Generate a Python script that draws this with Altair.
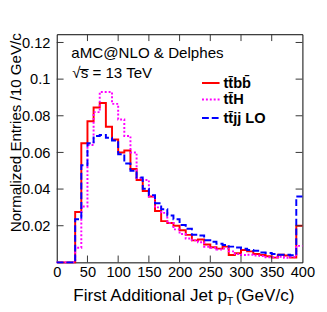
import altair as alt
import pandas as pd

# ---------------- data (bin lower edges, 10 GeV bins) ----------------
bin_edges = list(range(0, 400, 10))

ttbb = [0, 0, 0, 0.0275, 0.065, 0.077, 0.0845, 0.087, 0.074, 0.067,
        0.060, 0.061, 0.051, 0.045, 0.039, 0.036, 0.028, 0.0225, 0.0215, 0.020,
        0.0175, 0.015, 0.012, 0.0125, 0.0098, 0.0082, 0.0075, 0.0086, 0.004, 0.005,
        0.0068, 0.006, 0.0046, 0.004, 0.0033, 0.0026, 0.0042, 0.0038, 0.0026, 0.020]

ttH = [0, 0, 0, 0.008, 0.0305, 0.064, 0.082, 0.093, 0.093, 0.0865,
       0.078, 0.069, 0.060, 0.046, 0.045, 0.036, 0.030, 0.027, 0.0215, 0.018,
       0.0155, 0.013, 0.012, 0.011, 0.0085, 0.008, 0.007, 0.0075, 0.006, 0.0045,
       0.004, 0.0042, 0.0038, 0.0035, 0.0028, 0.0028, 0.003, 0.0025, 0.003, 0.009]

ttjj = [0, 0, 0, 0.0235, 0.053, 0.065, 0.069, 0.0695, 0.068, 0.0665,
        0.059, 0.054, 0.050, 0.0463, 0.0402, 0.0367, 0.0323, 0.029, 0.0256, 0.0235,
        0.0204, 0.0183, 0.0151, 0.0147, 0.0121, 0.0112, 0.0102, 0.0095, 0.0086, 0.0081,
        0.0074, 0.0067, 0.0063, 0.0054, 0.0051, 0.0046, 0.0042, 0.0042, 0.0039, 0.036]

series_names = ["t\u0074\u0304b\u0062\u0304", "t\u0074\u0304H", "t\u0074\u0304jj LO"]
series_colors = ["#ff0000", "#ff00ff", "#0000ff"]
series_dash = [[1, 0], [2, 2], [7, 3]]

x_ticks = [0, 50, 100, 150, 200, 250, 300, 350, 400]
y_ticks = [0.02, 0.04, 0.06, 0.08, 0.10, 0.12]

x_title_main = "First Additional Jet p"
x_title_sub = "T"
x_title_unit = "(GeV/c)"
y_title = "Normalized Entries /10 GeV/c"
note1 = "aMC@NLO & Delphes"
note2 = "\u221as\u0305 = 13 TeV"

W, H = 252, 234
FONT = "Liberation Sans"

xs = alt.Scale(domain=[0, 400], nice=False, zero=False)
ys = alt.Scale(domain=[0, 0.1245], nice=False, zero=False)

x_axis = alt.Axis(values=x_ticks, ticks=False, domain=False, grid=False,
                  labelFontSize=15, labelPadding=2, title=None, labelOverlap=False,
                  labelFlush=False, labelColor="black", labelFont=FONT)
y_axis = alt.Axis(values=y_ticks, ticks=False, domain=False, grid=False,
                  labelFontSize=15, labelPadding=7, title=None, format=".2~f",
                  labelOverlap=False, labelFlush=False, labelColor="black", labelFont=FONT)


def hist_df(vals):
    xs_ = bin_edges + [400]
    ys_ = vals + [vals[-1]]
    return pd.DataFrame({"x": xs_, "y": ys_})


layers = []
for i, vals in enumerate([ttbb, ttH, ttjj]):
    layers.append(
        alt.Chart(hist_df(vals)).mark_line(
            interpolate="step-after", strokeWidth=2, color=series_colors[i],
            strokeDash=series_dash[i], clip=False
        ).encode(x=alt.X("x:Q", scale=xs, axis=x_axis),
                 y=alt.Y("y:Q", scale=ys, axis=y_axis))
    )

xt = pd.DataFrame({"x": x_ticks[1:-1]})
yt = pd.DataFrame({"y": y_ticks})
tick_col = "#333333"
layers += [
    alt.Chart(xt).mark_rule(color=tick_col, strokeWidth=1).encode(
        x=alt.X("x:Q", scale=xs, axis=x_axis), y=alt.value(H), y2=alt.value(H - 7)),
    alt.Chart(xt).mark_rule(color=tick_col, strokeWidth=1).encode(
        x=alt.X("x:Q", scale=xs, axis=x_axis), y=alt.value(0), y2=alt.value(7)),
    alt.Chart(yt).mark_rule(color=tick_col, strokeWidth=1).encode(
        y=alt.Y("y:Q", scale=ys, axis=y_axis), x=alt.value(0), x2=alt.value(7)),
    alt.Chart(yt).mark_rule(color=tick_col, strokeWidth=1).encode(
        y=alt.Y("y:Q", scale=ys, axis=y_axis), x=alt.value(W), x2=alt.value(W - 7)),
]

one = pd.DataFrame({"a": [0]})


def txt(text, x, y, size, align="left", baseline="alphabetic", weight="normal", angle=0):
    return alt.Chart(one).mark_text(
        text=text, align=align, baseline=baseline, fontSize=size, fontWeight=weight,
        font=FONT, color="black", angle=angle
    ).encode(x=alt.value(x), y=alt.value(y))


layers += [
    txt(note1, 15, 24, 15.5),
    txt(note2, 16, 45, 15.5),
    txt(x_title_main, 174.5, 274, 17.5, align="right"),
    txt(x_title_sub, 174.5, 278, 11),
    txt(x_title_unit, 183.5, 274, 17.5),
    txt(y_title, -37, 101, 15.5, align="center", angle=270),
]

leg_y = [50, 67, 86]
for i in range(3):
    layers.append(
        alt.Chart(one).mark_rule(color=series_colors[i], strokeWidth=2,
                                 strokeDash=series_dash[i]).encode(
            x=alt.value(149), x2=alt.value(167), y=alt.value(leg_y[i]))
    )
    layers.append(txt(series_names[i], 171, leg_y[i], 15, baseline="middle", weight="bold"))

chart = alt.layer(*layers).properties(
    width=W, height=H,
    padding={"left": 50, "top": 23, "right": 17, "bottom": 47},
    autosize=alt.AutoSizeParams(type="none"),
).configure_view(stroke="black", strokeWidth=1)

chart.save("out.html", embed_options={"renderer": "svg", "actions": False})
